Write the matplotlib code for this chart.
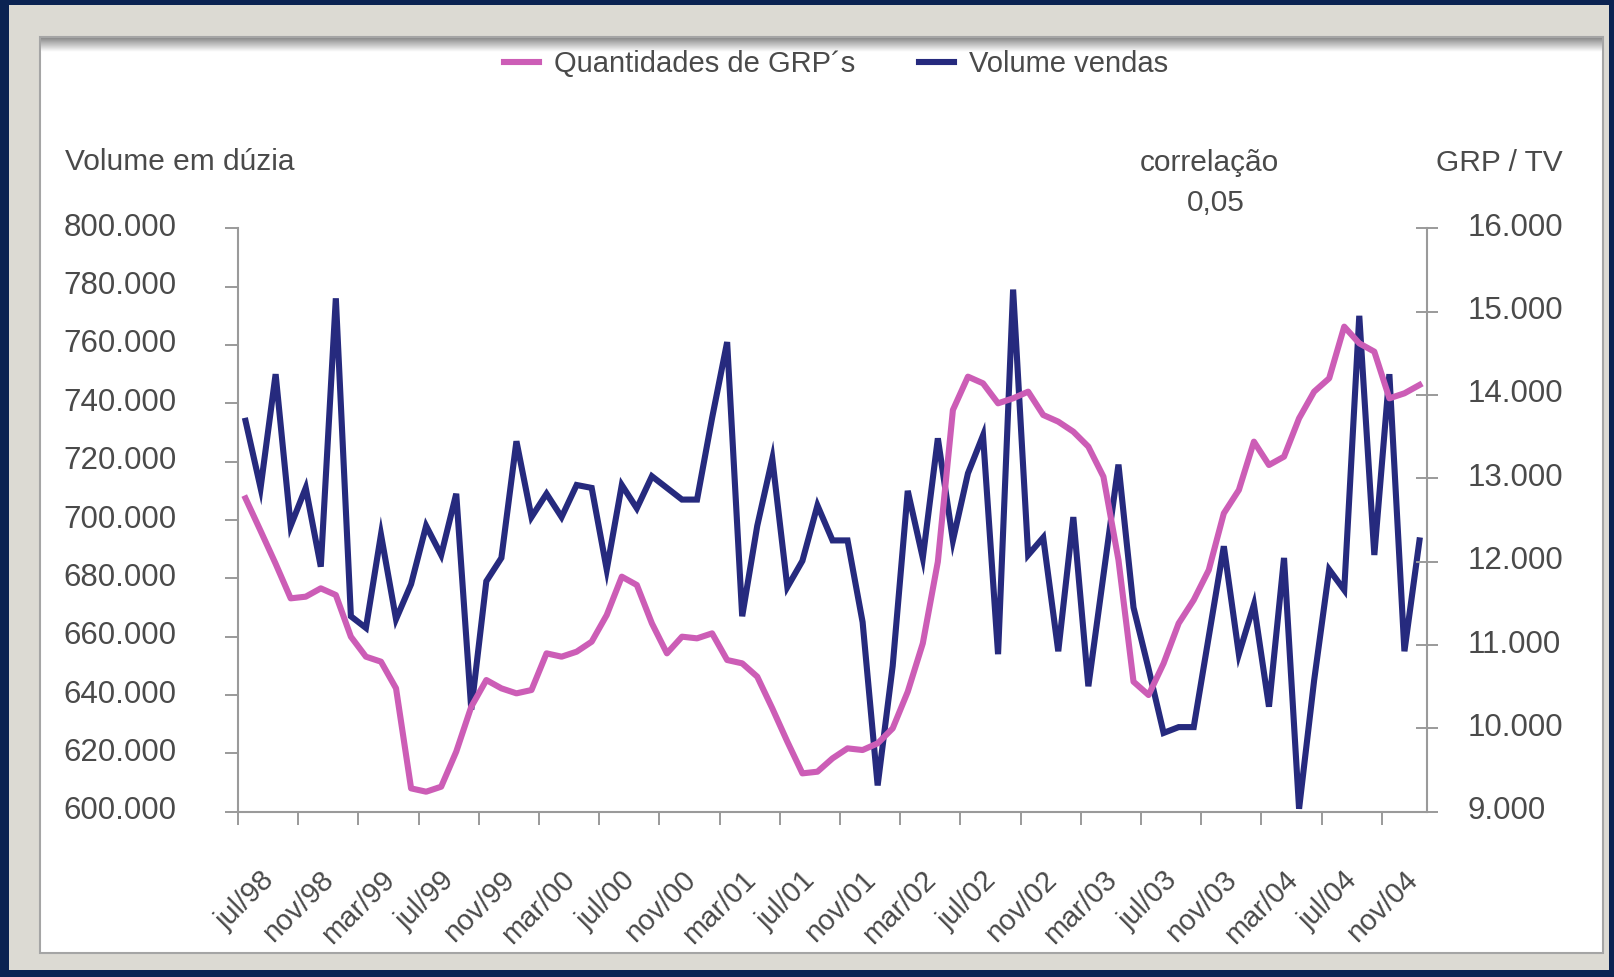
import numpy as np
import matplotlib
matplotlib.use("Agg")
import matplotlib.pyplot as plt
from matplotlib.patches import Rectangle
from matplotlib.ticker import FuncFormatter, NullFormatter
from matplotlib.transforms import ScaledTranslation

# ── fonte ─────────────────────────────────────────────────
plt.rcParams["font.family"] = ["Liberation Sans", "DejaVu Sans"]

# ── dados (jul/98 .. jan/05, mensal) ───────────────────────
volume_vendas = [
    734000, 711000, 750000, 698000, 711000, 684000, 776000, 667000, 663000, 695000,
    666000, 678000, 698000, 688000, 709000, 635000, 679000, 687000, 727000, 701000,
    709000, 701000, 712000, 711000, 683000, 712000, 704000, 715000, 711000, 707000,
    707000, 735000, 761000, 667000, 698000, 721000, 677000, 686000, 705000, 693000,
    693000, 665000, 609000, 650000, 710000, 687000, 728000, 693000, 716000, 729000,
    654000, 779000, 688000, 694000, 655000, 701000, 643000, 681000, 719000, 670000,
    649000, 627000, 629000, 629000, 660000, 691000, 654000, 671000, 636000, 687000,
    601000, 645000, 683000, 676000, 770000, 688000, 750000, 655000, 693000,
]
grp_tv = [
    12760, 12370, 11975, 11560, 11580, 11680, 11600, 11100, 10860, 10800,
    10480, 9280, 9240, 9300, 9720, 10260, 10580, 10480, 10420, 10460,
    10900, 10860, 10920, 11040, 11360, 11820, 11720, 11260, 10900, 11100,
    11080, 11140, 10820, 10780, 10620, 10240, 9840, 9460, 9480, 9640,
    9760, 9740, 9820, 10000, 10440, 11020, 12000, 13820, 14220, 14140,
    13900, 13960, 14040, 13760, 13680, 13560, 13380, 13020, 12020, 10560,
    10400, 10780, 11260, 11540, 11900, 12580, 12860, 13440, 13160, 13260,
    13720, 14040, 14200, 14820, 14620, 14520, 13960, 14020, 14120,
]
x_labels = [
    "jul/98", "nov/98", "mar/99", "jul/99", "nov/99", "mar/00", "jul/00",
    "nov/00", "mar/01", "jul/01", "nov/01", "mar/02", "jul/02", "nov/02",
    "mar/03", "jul/03", "nov/03", "mar/04", "jul/04", "nov/04",
]
left_ticks = [600000, 620000, 640000, 660000, 680000, 700000, 720000, 740000, 760000, 780000, 800000]
right_ticks = [9000, 10000, 11000, 12000, 13000, 14000, 15000, 16000]

# ── cores ─────────────────────────────────────────────────
BLUE = "#262a7e"
PINK = "#cc5db6"
TXT = "#4a4a4a"
AXC = "#9a9a9a"
NAVY = "#0b2352"
PANEL = "#dcdad3"

W, H = 1615, 977


def fig_rect(x0, y0, x1, y1):
    """pixel box (top-left origin) -> figure fraction"""
    return [x0 / W, 1 - y1 / H, (x1 - x0) / W, (y1 - y0) / H]


def thousands(v, _pos=None):
    return f"{int(round(v)):,}".replace(",", ".")


fig = plt.figure(figsize=(W / 100, H / 100), dpi=100, facecolor=NAVY)

# moldura cinza + área branca
r = fig_rect(9, 5, 1609, 970)
fig.patches.append(Rectangle((r[0], r[1]), r[2], r[3], transform=fig.transFigure,
                             facecolor=PANEL, edgecolor="none", zorder=-3))
r = fig_rect(40, 37, 1603, 953)
fig.patches.append(Rectangle((r[0], r[1]), r[2], r[3], transform=fig.transFigure,
                             facecolor="white", edgecolor="#a5a5a5", linewidth=1.5, zorder=-2))
# sombra no topo da área branca
sh = fig.add_axes(fig_rect(41, 38, 1602, 52), zorder=-1)
grad = np.linspace(0.55, 1.0, 40).reshape(-1, 1)
sh.imshow(grad, cmap="gray", vmin=0, vmax=1, aspect="auto")
sh.axis("off")

# ── gráfico ───────────────────────────────────────────────
x = np.arange(len(volume_vendas))
ax = fig.add_axes([238 / W, 1 - 811.7 / H, (1427 - 238) / W, (811.7 - 228.3) / H])
ax.set_facecolor("none")
l_vol, = ax.plot(x, volume_vendas, color=BLUE, linewidth=4.4, solid_joinstyle="miter")
ax2 = ax.twinx()
l_grp, = ax2.plot(x, grp_tv, color=PINK, linewidth=4.4, solid_joinstyle="round")

ax.set_xlim(-0.5, len(x) - 0.5)
ax.set_ylim(600000, 800000)
ax2.set_ylim(9000, 16000)

for s in ["top", "right"]:
    ax.spines[s].set_visible(False)
for s in ["top", "left", "bottom"]:
    ax2.spines[s].set_visible(False)
for s in ["left", "bottom"]:
    ax.spines[s].set_color(AXC)
    ax.spines[s].set_linewidth(1.5)
ax2.spines["right"].set_color(AXC)
ax2.spines["right"].set_linewidth(1.5)

# eixo esquerdo
ax.set_yticks(left_ticks)
ax.yaxis.set_major_formatter(FuncFormatter(thousands))
ax.tick_params(axis="y", direction="out", length=9.5, width=1.4, color=AXC,
               pad=35, labelsize=22.5, labelcolor=TXT)

# eixo direito
ax2.set_yticks(right_ticks)
ax2.yaxis.set_major_formatter(FuncFormatter(thousands))
ax2.tick_params(axis="y", direction="inout", length=16.5, width=1.4, color=AXC,
                pad=21, labelsize=22.5, labelcolor=TXT)

up = ScaledTranslation(0, 0.04, fig.dpi_scale_trans)
for lbl in ax.get_yticklabels() + ax2.get_yticklabels():
    lbl.set_transform(lbl.get_transform() + up)

# eixo x: marcas entre categorias, rótulos a cada 4 meses
ax.set_xticks(np.arange(-0.5, len(x) - 3, 4))
ax.xaxis.set_major_formatter(NullFormatter())
ax.set_xticks(np.arange(0, len(x), 4), x_labels, minor=True)
ax.tick_params(axis="x", which="major", direction="out", length=9.5, width=1.4, color=AXC)
ax.tick_params(axis="x", which="minor", length=0, pad=46, labelsize=21, labelcolor=TXT)
shift = ScaledTranslation(0.24, 0, fig.dpi_scale_trans)
for lbl in ax.get_xticklabels(minor=True):
    lbl.set_rotation(45)
    lbl.set_ha("right")
    lbl.set_va("center")
    lbl.set_rotation_mode("anchor")
    lbl.set_transform(lbl.get_transform() + shift)

# ── textos ────────────────────────────────────────────────
fig.text(65 / W, 1 - 162 / H, "Volume em dúzia", ha="left", va="center", fontsize=21.5, color=TXT)
fig.text(1209 / W, 1 - 163 / H, "correlação", ha="center", va="center", fontsize=21.5, color=TXT)
fig.text(1216 / W, 1 - 203 / H, "0,05", ha="center", va="center", fontsize=21.5, color=TXT)
fig.text(1563 / W, 1 - 163 / H, "GRP / TV", ha="right", va="center", fontsize=21.5, color=TXT)

fig.legend(handles=[l_grp, l_vol], labels=["Quantidades de GRP´s", "Volume vendas"],
           loc="center", bbox_to_anchor=(836 / W, 1 - 64 / H), ncol=2, frameon=False,
           fontsize=21, handlelength=1.2, handletextpad=0.5, columnspacing=2.2,
           labelcolor=TXT)

fig.savefig("out.png", dpi=100, facecolor=NAVY)
